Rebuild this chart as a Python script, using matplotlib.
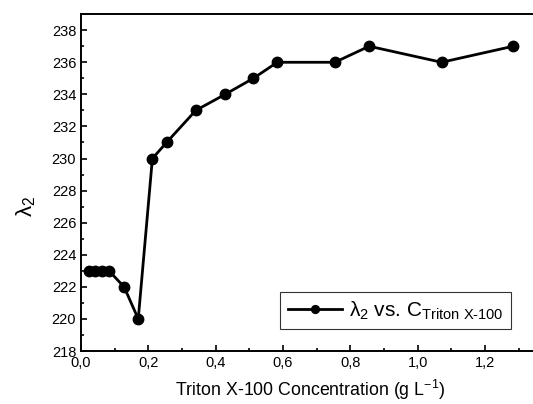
import numpy as np
import matplotlib
matplotlib.use("Agg")
import matplotlib.pyplot as plt
from matplotlib.ticker import MultipleLocator, FuncFormatter

#data
conc = [0.025, 0.042, 0.061, 0.083, 0.128, 0.170, 0.212, 0.254, 0.341,
        0.428, 0.512, 0.583, 0.754, 0.856, 1.071, 1.284]
lam2 = [223, 223, 223, 223, 222, 220, 230, 231, 233,
        234, 235, 236, 236, 237, 236, 237]
xticks = [0.0, 0.2, 0.4, 0.6, 0.8, 1.0, 1.2]
yticks = [218, 220, 222, 224, 226, 228, 230, 232, 234, 236, 238]

plt.rcParams['font.family'] = ['Liberation Sans', 'DejaVu Sans']
plt.rcParams['mathtext.fontset'] = 'custom'
plt.rcParams['mathtext.rm'] = 'Liberation Sans'
plt.rcParams['mathtext.it'] = 'Liberation Sans'

fig = plt.figure(figsize=(5.33, 4.04), dpi=100)
ax = fig.add_axes([0.152, 0.131, 0.859, 0.834])

ax.plot(conc, lam2, color="black", lw=2.0, marker="o", ms=7.5,
        label=r"$\lambda_2$ vs. C$_{\rm Triton\ X\text{-}100}$")

ax.set_xlim(0, 1.36)
ax.set_ylim(218, 239)
ax.set_xticks(xticks)
ax.set_yticks(yticks)
ax.xaxis.set_minor_locator(MultipleLocator(0.1))
ax.yaxis.set_minor_locator(MultipleLocator(1))
ax.xaxis.set_major_formatter(FuncFormatter(lambda v, p: ("%.1f" % v).replace(".", ",")))
ax.tick_params(which="both", direction="in", labelsize=10.5, width=1.2)
ax.tick_params(which="major", length=4.5)
ax.tick_params(which="minor", length=2.5)
for s in ax.spines.values():
    s.set_linewidth(1.4)

ax.set_xlabel(r"Triton X-100 Concentration (g L$^{-1}$)", fontsize=12.8, labelpad=6)
ax.set_ylabel(r"$\lambda_2$", fontsize=16)
ax.yaxis.set_label_coords(-0.095, 0.43)

leg = ax.legend(loc="lower right", bbox_to_anchor=(0.962, 0.035), fontsize=15,
                fancybox=False, edgecolor="black", handlelength=2.6,
                handletextpad=0.35, borderpad=0.35, markerscale=0.75)
leg.get_frame().set_linewidth(0.8)

fig.savefig("out.png", dpi=100)
